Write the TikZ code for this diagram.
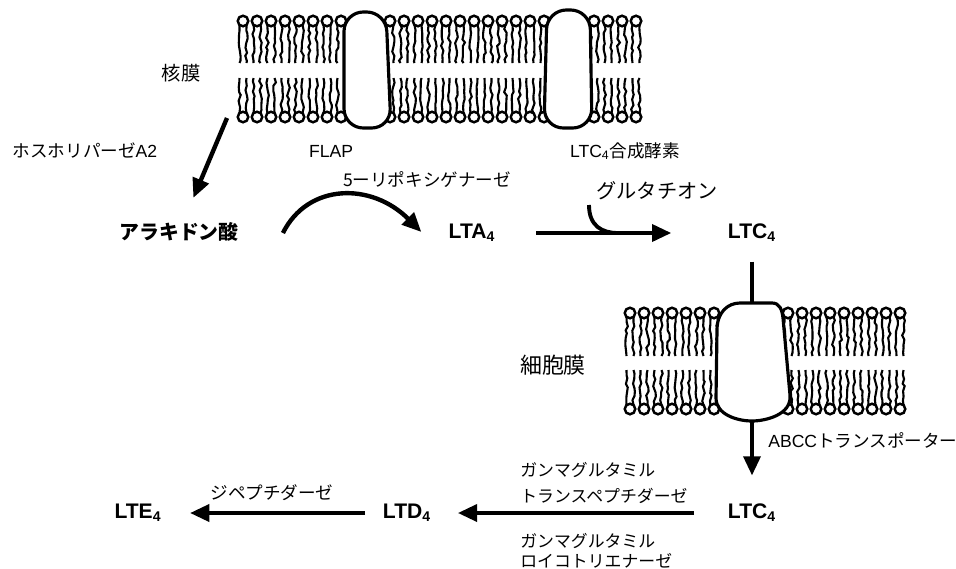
\documentclass[tikz,border=0pt]{standalone}
\usepackage{fontspec}
\setmainfont{Liberation Sans}
\newfontfamily\jp{Noto Sans CJK JP}
\usetikzlibrary{arrows.meta,decorations.pathmorphing}

\begin{document}
\begin{tikzpicture}[
    x=0.02cm, y=-0.02cm,
    >={Triangle[length=11pt,width=9.5pt]},
    every node/.style={inner sep=0pt},
    compound/.style={font=\fontsize{12}{14}\selectfont\bfseries},
    enzyme/.style={font=\fontsize{10}{12}\selectfont},
    flow/.style={->,line width=2.5pt},
    hookline/.style={line width=2.2pt},
    lipidhead/.style={line width=1.4pt,fill=white},
    lipidtail/.style={
        line width=1.2pt,
        decorate,
        decoration={random steps,segment length=2.5pt,amplitude=0.8pt},
    },
    protein/.style={line width=1.8pt,fill=white},
    lipid/.pic={
        \draw[lipidtail] (-3.5,4) -- (-3.5,#1);
        \draw[lipidtail] (3.5,4) -- (3.5,#1);
        \draw[lipidhead] (0,0) circle[radius=3pt];
    },
]
\useasboundingbox (0,0) rectangle (956,568);
\pgfmathsetseed{11}

% Nuclear membrane
\foreach \x in {243,257,...,341,390,404,...,544,594,608,622,636} {
    \pic at (\x,21) {lipid=42};
    \pic[yscale=-1] at (\x,117) {lipid=39};
}
\draw[protein,rounded corners=11pt] (344,12) -- (386,12) -- (391,128) -- (344,128) -- cycle;
\draw[protein,rounded corners=11pt] (547,10) -- (590,10) -- (592,128) -- (544,128) -- cycle;

% Cell membrane
\foreach \x in {630,644,...,714,788,802,...,900} {
    \pic at (\x,313) {lipid=43};
    \pic[yscale=-1] at (\x,409) {lipid=39};
}
\draw[protein] (740,303) -- (772,303) .. controls (780,303) and (782,310) .. (783,318)
    -- (790,395) .. controls (792,415) and (765,421) .. (752,421)
    .. controls (738,421) and (716,415) .. (716,398)
    -- (717,330) .. controls (717,312) and (728,303) .. (740,303) -- cycle;

% Labels
\node[font=\fontsize{11}{13}\selectfont\jp] (nucmem) at (181,73) {核膜};
\node[enzyme] (pla2) at (85,151) {{\jp ホスホリパーゼ}A2};
\node[enzyme] (flap) at (331,151) {FLAP};
\node[enzyme] (ltcs) at (625,151) {LTC\textsubscript{4}{\jp 合成酵素}};
\node[enzyme] (lox) at (427,180) {{\jp 5ーリポキシゲナーゼ}};
\node[font=\fontsize{11.5}{13}\selectfont\jp] (gsh) at (657,191) {グルタチオン};
\node[font=\fontsize{12.5}{14}\selectfont\jp] (cellmem) at (553,365) {細胞膜};
\node[enzyme,anchor=west] (abcc) at (768,440) {ABCC{\jp トランスポーター}};
\node[font=\fontsize{9.6}{15.3}\selectfont\jp,align=left,anchor=west] (ggt) at (520,483) {ガンマグルタミル\\トランスペプチダーゼ};
\node[font=\fontsize{9.6}{11.5}\selectfont\jp,align=left,anchor=west] (ggl) at (520,551) {ガンマグルタミル\\ロイコトリエナーゼ};
\node[font=\fontsize{10}{12}\selectfont\jp] (dpep) at (272,493) {ジペプチダーゼ};

% Compounds
\node[font=\fontsize{11.3}{13}\selectfont\bfseries\jp] (arach) at (179,232) {アラキドン酸};
\node[compound] (lta) at (472,233) {LTA\textsubscript{4}};
\node[compound] (ltc) at (752,233) {LTC\textsubscript{4}};
\node[compound] (ltcout) at (752,513) {LTC\textsubscript{4}};
\node[compound] (ltd) at (407,513) {LTD\textsubscript{4}};
\node[compound] (lte) at (138,513) {LTE\textsubscript{4}};

% Pathway
\coordinate (nucout) at (227,118);
\draw[flow,shorten >=15pt] (nucout) -- (arach);
\draw[flow] ([shift={(44,1)}]arach.east) .. controls +(25,-50) and +(-50,-50) .. ([shift={(-27,-1)}]lta.west);
\draw[flow,shorten <=23pt,shorten >=32pt] (lta) -- (ltc);
\coordinate (gshin) at (589,205);
\coordinate (gshjoin) at (618,233);
\draw[hookline] (gshin) .. controls (589,226) and (602,233) .. (gshjoin);

\coordinate (abcctop) at (752,303);
\coordinate (abccbot) at (752,421);
\draw[hookline,shorten <=11pt] (ltc) -- (abcctop);
\draw[flow,shorten >=16pt] (abccbot) -- (ltcout);

\draw[flow,shorten <=19pt,shorten >=15pt] (ltcout) -- (ltd);
\draw[flow,shorten <=10pt,shorten >=16pt] (ltd) -- (lte);

\end{tikzpicture}
\end{document}
